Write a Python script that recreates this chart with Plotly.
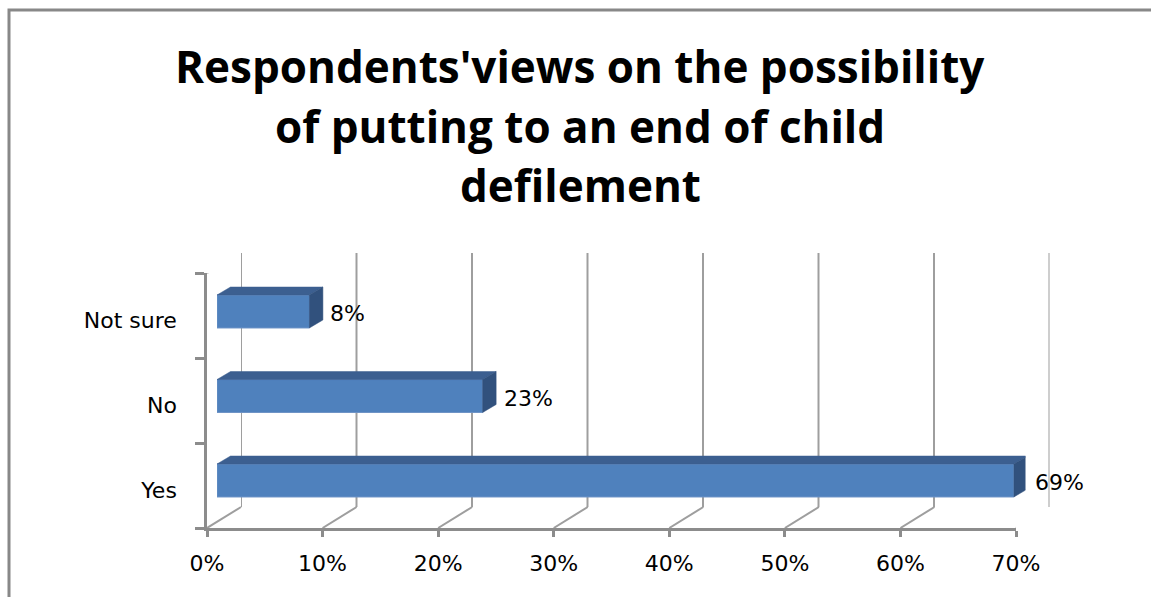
import plotly.graph_objects as go

# ---- data ----
categories = ["Yes", "No", "Not sure"]
values = [0.69, 0.23, 0.08]
value_labels = ["69%", "23%", "8%"]
x_ticks = [0, 0.1, 0.2, 0.3, 0.4, 0.5, 0.6, 0.7]
x_tick_labels = ["0%", "10%", "20%", "30%", "40%", "50%", "60%", "70%"]
title_lines = ["Respondents'views on the possibility",
               "of putting to an end of child",
               "defilement"]

W, H = 1151, 597
def px(x):
    return x / W
def py(y):
    return 1 - y / H

GRID = "#9e9e9e"
AXIS = "#8c8c8c"
FRONT = "#4F81BD"
TOP = "#3C5F90"
SIDE = "#31517D"

fig = go.Figure()

# bar subplot (x2/y2): 0 -> 217px, 0.7 -> 1025.5px ; unit of y = 84.5 px
bar_x0, bar_x1 = 217, 1025.5
bar_unit_px = (bar_x1 - bar_x0) / 0.7
y_unit_px = 84.5
y_center0 = 480.5
bar_w = 0.39
ypos = list(range(len(categories)))
dx = 13.5 / bar_unit_px
dy = 8 / y_unit_px

fig.add_trace(go.Bar(x=values, y=ypos, orientation="h", width=bar_w,
                     marker=dict(color=FRONT, line=dict(color="#6d93c6", width=1)),
                     xaxis="x2", yaxis="y2", hoverinfo="skip", showlegend=False))

for v, yc in zip(values, ypos):
    yt = yc + bar_w / 2
    yb = yc - bar_w / 2
    # top face
    fig.add_trace(go.Scatter(x=[0, v, v + dx, dx, 0], y=[yt, yt, yt + dy, yt + dy, yt],
                             fill="toself", fillcolor=TOP, mode="lines",
                             line=dict(color=TOP, width=0.5),
                             xaxis="x2", yaxis="y2", hoverinfo="skip", showlegend=False))
    # side face
    fig.add_trace(go.Scatter(x=[v, v + dx, v + dx, v, v], y=[yt, yt + dy, yb + dy, yb, yt],
                             fill="toself", fillcolor=SIDE, mode="lines",
                             line=dict(color=SIDE, width=0.5),
                             xaxis="x2", yaxis="y2", hoverinfo="skip", showlegend=False))

annotations = []
for v, yc, lab in zip(values, ypos, value_labels):
    annotations.append(dict(x=v, y=yc, xref="x2", yref="y2", text=lab, showarrow=False,
                            xanchor="left", yanchor="middle", xshift=19, yshift=-2,
                            font=dict(family="DejaVu Sans", size=22, color="black")))

title_y = [66, 126, 185]
for t, yy in zip(title_lines, title_y):
    annotations.append(dict(x=px(580), y=py(yy), xref="paper", yref="paper", text="<b>" + t + "</b>",
                            showarrow=False, xanchor="center", yanchor="middle",
                            font=dict(family="Open Sans", size=44, color="black")))

shapes = []
# chart frame (top + left visible)
shapes.append(dict(type="rect", xref="paper", yref="paper", x0=px(9), x1=px(1165),
                   y0=py(620), y1=py(10), line=dict(color="#888888", width=3)))
# back wall gridlines (below everything)
for t in x_ticks:
    shapes.append(dict(type="line", xref="x", yref="paper", x0=t, x1=t,
                       y0=py(507), y1=py(253), layer="below",
                       line=dict(color=GRID, width=2)))
# floor diagonals
for t in x_ticks:
    shapes.append(dict(type="line", xref="x3", yref="y3", xsizemode="pixel", ysizemode="pixel",
                       xanchor=t, yanchor=-0.5, x0=0, x1=34, y0=0, y1=21,
                       line=dict(color=GRID, width=2)))
# left wall top diagonal
shapes.append(dict(type="line", xref="x3", yref="y3", xsizemode="pixel", ysizemode="pixel",
                   xanchor=0, yanchor=2.5, x0=0, x1=34, y0=0, y1=20,
                   line=dict(color=GRID, width=2)))

fig.update_layout(
    template="none",
    width=W, height=H, margin=dict(l=0, r=0, t=0, b=0, autoexpand=False),
    paper_bgcolor="white", plot_bgcolor="rgba(0,0,0,0)",
    showlegend=False,
    annotations=annotations, shapes=shapes,
    # back wall axis
    xaxis=dict(domain=[px(241), px(1049.5)], range=[0, 0.7], visible=False,
               showgrid=False, zeroline=False, anchor="y", fixedrange=True),
    yaxis=dict(domain=[py(507), py(253)], range=[0, 1], visible=False, showgrid=False,
               zeroline=False, anchor="x", fixedrange=True),
    # bars
    xaxis2=dict(domain=[px(bar_x0), px(bar_x1)], range=[0, 0.7], visible=False,
                showgrid=False, zeroline=False, anchor="y2", fixedrange=True),
    yaxis2=dict(domain=[py(y_center0 + 0.5 * y_unit_px), py(y_center0 - 2.5 * y_unit_px)],
                range=[-0.5, 2.5], visible=False, showgrid=False, zeroline=False,
                anchor="x2", fixedrange=True),
    # front axes
    xaxis3=dict(domain=[px(207), px(1016)], range=[0, 0.7], tickvals=x_ticks,
                ticktext=x_tick_labels, showgrid=False, zeroline=False,
                showline=True, linecolor=AXIS, linewidth=2.5,
                ticks="outside", ticklen=6, tickwidth=3, tickcolor=AXIS,
                tickfont=dict(family="DejaVu Sans", size=22, color="black"),
                ticklabelstandoff=8, anchor="y3", fixedrange=True, automargin=False),
    yaxis3=dict(domain=[py(528), py(273)], range=[-0.5, 2.5], tickvals=ypos,
                ticktext=categories, showgrid=False, zeroline=False,
                showline=True, linecolor=AXIS, linewidth=2.5, ticks="",
                minor=dict(tickvals=[-0.5, 0.5, 1.5, 2.5], ticks="outside", ticklen=9,
                           tickwidth=2.5, tickcolor=AXIS, showgrid=False),
                tickfont=dict(family="DejaVu Sans", size=22, color="black"),
                ticklabelstandoff=23, ticklabelshift=5,
                anchor="x3", fixedrange=True, automargin=False),
)

fig.write_html("out.html")
